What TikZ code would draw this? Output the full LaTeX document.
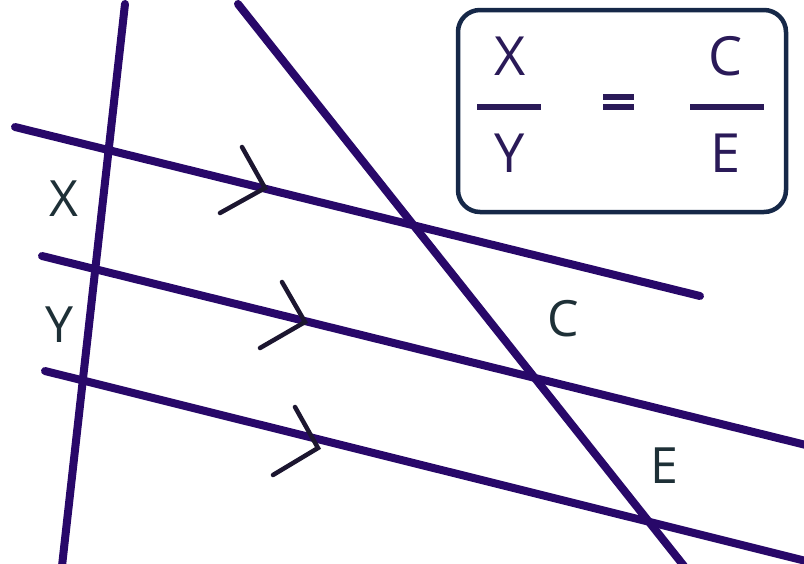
\documentclass[tikz,border=0pt]{standalone}
\usepackage{fontspec}
\setmainfont{Open Sans}
\definecolor{linecol}{RGB}{40,8,105}
\definecolor{chevcol}{RGB}{28,22,48}
\definecolor{labcol}{RGB}{30,48,55}
\definecolor{boxtext}{RGB}{42,26,88}
\definecolor{boxline}{RGB}{22,40,72}
\begin{document}
\begin{tikzpicture}[x=1pt,y=-1pt,
  geoline/.style={draw=linecol,line width=8pt,line cap=round},
  chev/.style={draw=chevcol,line width=4.5pt,line cap=round,line join=miter},
  lab/.style={text=labcol,inner sep=0pt,font=\fontsize{50}{50}\selectfont},
  boxlab/.style={text=boxtext,inner sep=0pt,font=\fontsize{54}{54}\selectfont},
  fracbar/.style={draw=boxtext,line width=6pt},
  eqbox/.style={draw=boxline,line width=4.5pt,rounded corners=22pt}]
\useasboundingbox (0,0) rectangle (804,563);
\fill[white] (0,0) rectangle (804,563);
% transversals
\coordinate (t1a) at (125,4);
\coordinate (t1b) at (62,566);
\coordinate (t2a) at (238,4);
\coordinate (t2b) at (684,566);
% parallel lines
\coordinate (p1a) at (15,127);
\coordinate (p1b) at (700,296);
\coordinate (p2a) at (42,256);
\coordinate (p2b) at (806,445);
\coordinate (p3a) at (45,371);
\coordinate (p3b) at (806,561);
\draw[geoline] (p1a) -- (p1b);
\draw[geoline] (p2a) -- (p2b);
\draw[geoline] (p3a) -- (p3b);
\draw[geoline] (t1a) -- (t1b);
\draw[geoline] (t2a) -- (t2b);
% chevrons
\draw[chev] (242,147) -- (265,188) -- (220,213);
\draw[chev] (282,282) -- (305,322) -- (260,348);
\draw[chev] (295,407) -- (318,448) -- (273,475);
% labels
\node[lab] (lx) at (64,199) {X};
\node[lab] (ly) at (60,325) {Y};
\node[lab] (lc) at (563,319) {C};
\node[lab] (le) at (664,466) {E};
% equation box
\draw[eqbox] (458,10) rectangle (786,212);
\node[boxlab] (bx) at (510,56) {X};
\node[boxlab] (by) at (510,153) {Y};
\node[boxlab] (bc) at (726,56) {C};
\node[boxlab] (be) at (726,153) {E};
\coordinate (b1a) at (477,107);
\coordinate (b1b) at (541,107);
\coordinate (b2a) at (690,107);
\coordinate (b2b) at (764,107);
\draw[fracbar] (b1a) -- (b1b);
\draw[fracbar] (b2a) -- (b2b);
\coordinate (e1a) at (603,97);
\coordinate (e1b) at (634,97);
\coordinate (e2a) at (603,107);
\coordinate (e2b) at (634,107);
\draw[fracbar] (e1a) -- (e1b);
\draw[fracbar] (e2a) -- (e2b);
\end{tikzpicture}
\end{document}
